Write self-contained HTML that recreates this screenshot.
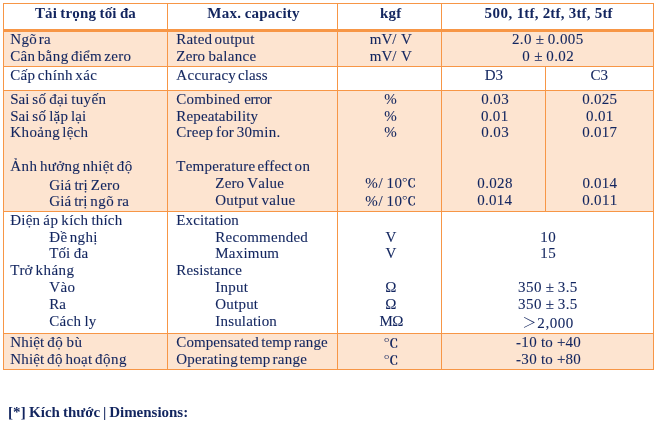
<!DOCTYPE html>
<html lang="vi"><head><meta charset="utf-8"><title>Specifications</title>
<style>
html,body{margin:0;padding:0;background:#fff;}
body{width:662px;height:425px;position:relative;overflow:hidden;font-family:"Liberation Serif","Noto Serif CJK SC",serif;color:#12255f;font-kerning:none;font-variant-ligatures:none;}
.r{position:absolute;}
.fl{background:#fde4d0;}
.ln{background:#f79646;}
.t{position:absolute;white-space:nowrap;font-size:15px;line-height:17px;-webkit-text-stroke:.1px #12255f;}
.h,.f{font-weight:bold;-webkit-text-stroke:0;}
.cj{font-family:"Noto Serif CJK SC","Liberation Serif",serif;letter-spacing:0;display:inline-block;line-height:10px;vertical-align:baseline;}
.dc{transform:scaleY(.83);transform-origin:0 11.5px;font-weight:600;}
.dc2{transform:translateY(-1px) scaleY(.78);font-size:14.4px;margin-left:-.7px;}
.gt{font-size:14.2px;margin-right:.9px;transform:translateY(-1px);font-weight:500;}
</style></head><body>
<div class="r fl" style="left:4px;top:32px;width:649px;height:34px"></div>
<div class="r fl" style="left:4px;top:91px;width:649px;height:120px"></div>
<div class="r fl" style="left:4px;top:334px;width:649px;height:35px"></div>
<div class="r ln" style="left:3px;top:3px;width:651px;height:1px"></div>
<div class="r ln" style="left:3px;top:29px;width:651px;height:3px"></div>
<div class="r ln" style="left:3px;top:66px;width:651px;height:1px"></div>
<div class="r ln" style="left:3px;top:90px;width:651px;height:1px"></div>
<div class="r ln" style="left:3px;top:211px;width:651px;height:1px"></div>
<div class="r ln" style="left:3px;top:333px;width:651px;height:1px"></div>
<div class="r ln" style="left:3px;top:369px;width:651px;height:1px"></div>
<div class="r ln" style="left:3px;top:3px;width:1px;height:367px"></div>
<div class="r ln" style="left:167px;top:3px;width:1px;height:367px"></div>
<div class="r ln" style="left:337px;top:3px;width:1px;height:367px"></div>
<div class="r ln" style="left:441px;top:3px;width:1px;height:367px"></div>
<div class="r ln" style="left:653px;top:3px;width:1px;height:367px"></div>
<div class="r ln" style="left:545px;top:66px;width:1px;height:146px"></div>
<div class="t h" style="left:34.93px;top:5px;word-spacing:-0.43px;"><span style="letter-spacing:0.11px">Tải</span> <span style="letter-spacing:0.2px">trọng</span> <span style="letter-spacing:0.11px">tối</span> <span style="letter-spacing:0.08px">đa</span></div>
<div class="t h" style="left:207.32px;top:5px;word-spacing:-0.33px;"><span style="letter-spacing:0.27px">Max.</span> <span style="letter-spacing:0.21px">capacity</span></div>
<div class="t h" style="left:379.93px;top:5px;"><span style="letter-spacing:0.27px">kgf</span></div>
<div class="t h" style="left:484.59px;top:5px;word-spacing:0.28px;"><span style="letter-spacing:0.44px">500,</span> <span style="letter-spacing:0.19px">1tf,</span> <span style="letter-spacing:0.19px">2tf,</span> <span style="letter-spacing:0.19px">3tf,</span> <span style="letter-spacing:0.17px">5tf</span></div>
<div class="t" style="left:10.3px;top:31px;word-spacing:-1.93px;"><span style="letter-spacing:0.28px">Ngõ</span> <span style="letter-spacing:0.07px">ra</span></div>
<div class="t" style="left:10.3px;top:48px;word-spacing:-1.45px;"><span style="letter-spacing:0.28px">Cân</span> <span style="letter-spacing:0.46px">bằng</span> <span style="letter-spacing:0.25px">điểm</span> <span style="letter-spacing:0.3px">zero</span></div>
<div class="t" style="left:10.3px;top:67px;word-spacing:-1.23px;"><span style="letter-spacing:0.28px">Cấp</span> <span style="letter-spacing:0.33px">chính</span> <span style="letter-spacing:0.39px">xác</span></div>
<div class="t" style="left:10.3px;top:91px;word-spacing:-0.77px;"><span style="letter-spacing:-0.06px">Sai</span> <span style="letter-spacing:0.33px">số</span> <span style="letter-spacing:0.22px">đại</span> <span style="letter-spacing:0.33px">tuyến</span></div>
<div class="t" style="left:10.3px;top:108px;word-spacing:-0.84px;"><span style="letter-spacing:-0.06px">Sai</span> <span style="letter-spacing:0.33px">số</span> <span style="letter-spacing:0.22px">lặp</span> <span style="letter-spacing:0px">lại</span></div>
<div class="t" style="left:10.3px;top:124px;word-spacing:-1.7px;"><span style="letter-spacing:0.4px">Khoảng</span> <span style="letter-spacing:0.24px">lệch</span></div>
<div class="t" style="left:10.3px;top:158px;word-spacing:-0.99px;"><span style="letter-spacing:0.39px">Ảnh</span> <span style="letter-spacing:0.29px">hưởng</span> <span style="letter-spacing:0.2px">nhiệt</span> <span style="letter-spacing:0.5px">độ</span></div>
<div class="t" style="left:49.3px;top:177px;word-spacing:-0.5px;"><span style="letter-spacing:0.11px">Giá</span> <span style="letter-spacing:-0.11px">trị</span> <span style="letter-spacing:0.17px">Zero</span></div>
<div class="t" style="left:49.3px;top:193px;word-spacing:-0.8px;"><span style="letter-spacing:0.11px">Giá</span> <span style="letter-spacing:-0.11px">trị</span> <span style="letter-spacing:0.5px">ngõ</span> <span style="letter-spacing:0.17px">ra</span></div>
<div class="t" style="left:10.3px;top:212px;word-spacing:-0.73px;"><span style="letter-spacing:0.21px">Điện</span> <span style="letter-spacing:0.42px">áp</span> <span style="letter-spacing:0.29px">kích</span> <span style="letter-spacing:0.2px">thích</span></div>
<div class="t" style="left:49.3px;top:229px;word-spacing:-1.28px;"><span style="letter-spacing:0.25px">Đề</span> <span style="letter-spacing:0.33px">nghị</span></div>
<div class="t" style="left:49.3px;top:245px;word-spacing:-0.36px;"><span style="letter-spacing:0.06px">Tối</span> <span style="letter-spacing:0.42px">đa</span></div>
<div class="t" style="left:10.3px;top:262px;word-spacing:-0.51px;"><span style="letter-spacing:-0.03px">Trở</span> <span style="letter-spacing:0.47px">kháng</span></div>
<div class="t" style="left:49.3px;top:279px;"><span style="letter-spacing:0.39px">Vào</span></div>
<div class="t" style="left:49.3px;top:296px;"><span style="letter-spacing:-0.03px">Ra</span></div>
<div class="t" style="left:49.3px;top:313px;word-spacing:-0.6px;"><span style="letter-spacing:0.29px">Cách</span> <span style="letter-spacing:0.17px">ly</span></div>
<div class="t" style="left:10.3px;top:334px;word-spacing:-0.68px;"><span style="letter-spacing:0.13px">Nhiệt</span> <span style="letter-spacing:0.5px">độ</span> <span style="letter-spacing:0.5px">bù</span></div>
<div class="t" style="left:10.3px;top:351px;word-spacing:-1.15px;"><span style="letter-spacing:0.13px">Nhiệt</span> <span style="letter-spacing:0.5px">độ</span> <span style="letter-spacing:0.29px">hoạt</span> <span style="letter-spacing:0.5px">động</span></div>
<div class="t" style="left:176.3px;top:31px;word-spacing:-1.47px;"><span style="letter-spacing:0.2px">Rated</span> <span style="letter-spacing:0.28px">output</span></div>
<div class="t" style="left:176.3px;top:48px;word-spacing:-0.59px;"><span style="letter-spacing:0.17px">Zero</span> <span style="letter-spacing:0.31px">balance</span></div>
<div class="t" style="left:176.3px;top:67px;word-spacing:-1.99px;"><span style="letter-spacing:0.3px">Accuracy</span> <span style="letter-spacing:0.15px">class</span></div>
<div class="t" style="left:176.3px;top:91px;word-spacing:0.29px;"><span style="letter-spacing:0.18px">Combined</span> <span style="letter-spacing:-0.41px">error</span></div>
<div class="t" style="left:176.3px;top:108px;"><span style="letter-spacing:0.15px">Repeatability</span></div>
<div class="t" style="left:176.3px;top:124px;word-spacing:-1.09px;"><span style="letter-spacing:0.24px">Creep</span> <span style="letter-spacing:0.17px">for</span> <span style="letter-spacing:0.32px">30min.</span></div>
<div class="t" style="left:176.3px;top:158px;word-spacing:-1.66px;"><span style="letter-spacing:0.22px">Temperature</span> <span style="letter-spacing:0.14px">effect</span> <span style="letter-spacing:0.5px">on</span></div>
<div class="t" style="left:215.3px;top:175px;word-spacing:-0.9px;"><span style="letter-spacing:0.17px">Zero</span> <span style="letter-spacing:0.24px">Value</span></div>
<div class="t" style="left:215.3px;top:192px;word-spacing:-0.64px;"><span style="letter-spacing:0.22px">Output</span> <span style="letter-spacing:0.3px">value</span></div>
<div class="t" style="left:176.3px;top:212px;"><span style="letter-spacing:0.09px">Excitation</span></div>
<div class="t" style="left:215.3px;top:229px;"><span style="letter-spacing:0.26px">Recommended</span></div>
<div class="t" style="left:215.3px;top:245px;"><span style="letter-spacing:0.2px">Maximum</span></div>
<div class="t" style="left:176.3px;top:262px;"><span style="letter-spacing:0.15px">Resistance</span></div>
<div class="t" style="left:215.3px;top:279px;"><span style="letter-spacing:0.27px">Input</span></div>
<div class="t" style="left:215.3px;top:296px;"><span style="letter-spacing:0.21px">Output</span></div>
<div class="t" style="left:215.3px;top:313px;"><span style="letter-spacing:0.17px">Insulation</span></div>
<div class="t" style="left:176.3px;top:334px;word-spacing:-1.35px;"><span style="letter-spacing:0.09px">Compensated</span> <span style="letter-spacing:0.04px">temp</span> <span style="letter-spacing:0.13px">range</span></div>
<div class="t" style="left:176.3px;top:351px;word-spacing:-1.84px;"><span style="letter-spacing:0.17px">Operating</span> <span style="letter-spacing:0.2px">temp</span> <span style="letter-spacing:0.29px">range</span></div>
<div class="t" style="left:369.64px;top:31px;word-spacing:0.68px;"><span style="letter-spacing:0.11px">mV/</span> <span style="letter-spacing:0.17px">V</span></div>
<div class="t" style="left:369.64px;top:48px;word-spacing:0.68px;"><span style="letter-spacing:0.11px">mV/</span> <span style="letter-spacing:0.17px">V</span></div>
<div class="t" style="left:384.17px;top:91px;"><span style="letter-spacing:-0.5px">%</span></div>
<div class="t" style="left:384.17px;top:108px;"><span style="letter-spacing:-0.5px">%</span></div>
<div class="t" style="left:384.17px;top:124px;"><span style="letter-spacing:-0.5px">%</span></div>
<div class="t" style="left:365.27px;top:175px;word-spacing:-0.63px;"><span style="letter-spacing:0.67px">%/</span> <span style="letter-spacing:0.5px">10<span class="cj dc dc2">℃</span></span></div>
<div class="t" style="left:365.27px;top:193px;word-spacing:-0.63px;"><span style="letter-spacing:0.67px">%/</span> <span style="letter-spacing:0.5px">10<span class="cj dc dc2">℃</span></span></div>
<div class="t" style="left:385.62px;top:229px;"><span style="letter-spacing:0.17px">V</span></div>
<div class="t" style="left:385.62px;top:245px;"><span style="letter-spacing:0.17px">V</span></div>
<div class="t" style="left:385.35px;top:279px;"><span style="letter-spacing:-0.15px">Ω</span></div>
<div class="t" style="left:385.35px;top:296px;"><span style="letter-spacing:-0.15px">Ω</span></div>
<div class="t" style="left:379.55px;top:313px;"><span style="letter-spacing:-0.64px">MΩ</span></div>
<div class="t" style="left:383.44px;top:335px;"><span style="letter-spacing:0px"><span class="cj dc">℃</span></span></div>
<div class="t" style="left:383.44px;top:352px;"><span style="letter-spacing:0px"><span class="cj dc">℃</span></span></div>
<div class="t" style="left:511.94px;top:31px;word-spacing:0.13px;"><span style="letter-spacing:0.42px">2.0</span> <span style="letter-spacing:-0.23px">±</span> <span style="letter-spacing:0.45px">0.005</span></div>
<div class="t" style="left:522.29px;top:48px;word-spacing:0.19px;"><span style="letter-spacing:0.5px">0</span> <span style="letter-spacing:-0.23px">±</span> <span style="letter-spacing:0.44px">0.02</span></div>
<div class="t" style="left:484.7px;top:67px;"><span style="letter-spacing:-0.07px">D3</span></div>
<div class="t" style="left:590.55px;top:67px;"><span style="letter-spacing:-0.15px">C3</span></div>
<div class="t" style="left:481.19px;top:91px;"><span style="letter-spacing:0.46px">0.03</span></div>
<div class="t" style="left:480.96px;top:108px;"><span style="letter-spacing:0.31px">0.01</span></div>
<div class="t" style="left:481.19px;top:124px;"><span style="letter-spacing:0.46px">0.03</span></div>
<div class="t" style="left:582.2px;top:91px;"><span style="letter-spacing:0.25px">0.025</span></div>
<div class="t" style="left:586.11px;top:108px;"><span style="letter-spacing:0.3px">0.01</span></div>
<div class="t" style="left:582.19px;top:124px;"><span style="letter-spacing:0.24px">0.017</span></div>
<div class="t" style="left:477.27px;top:175px;"><span style="letter-spacing:0.36px">0.028</span></div>
<div class="t" style="left:477.25px;top:192px;"><span style="letter-spacing:0.23px">0.014</span></div>
<div class="t" style="left:582.4px;top:175px;"><span style="letter-spacing:0.23px">0.014</span></div>
<div class="t" style="left:582.28px;top:192px;"><span style="letter-spacing:0.29px">0.011</span></div>
<div class="t" style="left:540.3px;top:229px;"><span style="letter-spacing:0.5px">10</span></div>
<div class="t" style="left:540.3px;top:245px;"><span style="letter-spacing:0.5px">15</span></div>
<div class="t" style="left:517.91px;top:279px;word-spacing:0.17px;"><span style="letter-spacing:0.5px">350</span> <span style="letter-spacing:-0.23px">±</span> <span style="letter-spacing:0.42px">3.5</span></div>
<div class="t" style="left:517.91px;top:296px;word-spacing:0.17px;"><span style="letter-spacing:0.5px">350</span> <span style="letter-spacing:-0.23px">±</span> <span style="letter-spacing:0.42px">3.5</span></div>
<div class="t" style="left:522.25px;top:315px;"><span style="letter-spacing:0.57px"><span class="cj gt">＞</span>2,000</span></div>
<div class="t" style="left:516.02px;top:334px;word-spacing:0.19px;"><span style="letter-spacing:0.33px">-10</span> <span style="letter-spacing:0.17px">to</span> <span style="letter-spacing:0.18px">+40</span></div>
<div class="t" style="left:516.02px;top:351px;word-spacing:0.19px;"><span style="letter-spacing:0.33px">-30</span> <span style="letter-spacing:0.17px">to</span> <span style="letter-spacing:0.18px">+80</span></div>
<div class="t f" style="left:7.9px;top:404px;word-spacing:-0.69px;"><span style="letter-spacing:0.17px">[*]</span> <span style="letter-spacing:0.04px">Kích</span> <span style="letter-spacing:-0.06px">thước</span> <span style="letter-spacing:-0.3px">|</span> <span style="letter-spacing:-0.02px">Dimensions:</span></div>
</body></html>
